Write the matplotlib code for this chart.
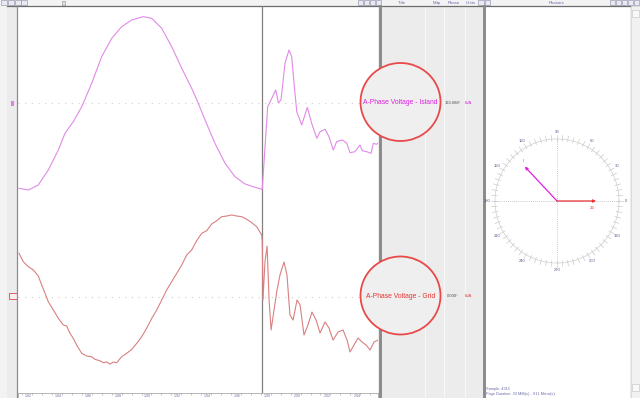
import numpy as np
import matplotlib
matplotlib.use("Agg")
import matplotlib.pyplot as plt
from matplotlib.patches import Rectangle, Ellipse

plt.rcParams['font.family'] = ['Liberation Sans', 'DejaVu Sans']

W, H = 640, 398

# ---------------- recorded waveforms (time in ms, voltage in p.u. of half-scale)
island_t_pre = [0.07, 0.73, 1.43, 2.13, 2.84, 3.31, 3.89, 4.49, 5.19, 5.89, 6.60, 7.30,
                8.01, 8.82, 9.42, 10.12, 10.82, 11.53, 12.23, 12.65, 13.17, 13.87, 14.58,
                15.28, 15.99, 16.69, 17.16]
island_v_pre = [-0.879, -0.897, -0.845, -0.691, -0.485, -0.312, -0.193, -0.038, 0.203,
                0.477, 0.667, 0.787, 0.856, 0.890, 0.873, 0.770, 0.581, 0.358, 0.151,
                0.013, -0.175, -0.416, -0.622, -0.760, -0.835, -0.869, -0.890]
island_t_post = [17.20, 17.58, 17.87, 18.15, 18.33, 18.52, 18.80, 19.08, 19.27, 19.46,
                 19.63, 19.98, 20.37, 20.68, 21.04, 21.27, 21.62, 21.90, 22.20, 22.44,
                 22.84, 23.15, 23.38, 23.73, 24.08, 24.25, 24.56, 24.86, 25.02, 25.26, 25.35]
island_v_post = [-0.890, -0.038, 0.048, 0.134, 0.003, 0.031, 0.409, 0.546, 0.478, 0.168,
                 -0.090, -0.227, -0.045, -0.210, -0.364, -0.296, -0.271, -0.347, -0.485,
                 -0.399, -0.381, -0.415, -0.512, -0.502, -0.433, -0.492, -0.502, -0.519,
                 -0.416, -0.426, -0.412]

grid_t_pre = [0.07, 0.37, 0.73, 1.08, 1.43, 1.67, 1.90, 2.13, 2.49, 2.84, 3.19, 3.43, 3.66,
              3.89, 4.13, 4.49, 4.84, 5.19, 5.42, 5.77, 6.01, 6.25, 6.48, 6.71, 6.95, 7.30,
              7.65, 8.01, 8.36, 8.71, 9.06, 9.42, 9.77, 10.12, 10.47, 10.82, 11.18, 11.53,
              11.88, 12.23, 12.58, 12.94, 13.29, 13.64, 13.99, 14.34, 14.70, 15.05, 15.40,
              15.75, 16.11, 16.46, 16.81, 17.16]
grid_v_pre = [0.448, 0.361, 0.309, 0.275, 0.212, 0.119, 0.034, -0.054, -0.140, -0.226,
              -0.295, -0.306, -0.381, -0.433, -0.503, -0.589, -0.617, -0.624, -0.651,
              -0.666, -0.686, -0.679, -0.700, -0.679, -0.686, -0.624, -0.589, -0.548,
              -0.485, -0.417, -0.329, -0.226, -0.140, -0.036, 0.067, 0.154, 0.241, 0.327,
              0.430, 0.482, 0.578, 0.655, 0.682, 0.751, 0.785, 0.827, 0.834, 0.845, 0.834,
              0.827, 0.800, 0.765, 0.723, 0.637]
grid_t_post = [17.20, 17.25, 17.39, 17.54, 17.68, 17.82, 18.03, 18.24, 18.45, 18.73, 18.94,
               19.15, 19.37, 19.65, 19.86, 20.14, 20.42, 20.70, 20.99, 21.27, 21.62, 21.90,
               22.18, 22.54, 22.89, 23.17, 23.38, 23.66, 23.94, 24.23, 24.51, 24.79, 25.07,
               25.35]
grid_v_post = [0.580, -0.036, 0.358, 0.523, -0.036, -0.347, -0.140, 0.067, 0.223, 0.358,
               0.223, -0.192, -0.244, -0.036, -0.088, -0.399, -0.295, -0.161, -0.244,
               -0.378, -0.264, -0.326, -0.451, -0.368, -0.347, -0.451, -0.575, -0.503,
               -0.430, -0.472, -0.503, -0.554, -0.472, -0.451]

event_t = 17.18
t_span = (0.0, 25.35)

# ---------------- channel table / phasors
chan_titles = ["A-Phase Voltage - Island", "A-Phase Voltage - Grid"]
chan_units = ["kVA", "kVA"]
phasor_names = ["I", "26"]
phasor_mag = [0.76, 0.63]
phasor_ang = [133.088, 0.0]
chan_text_colors = ["#e020e0", "#e83434"]
chan_line_colors = ["#e08ae6", "#d98080"]
header_cols = ["Title", "Mltp", "Phase", "Units"]
ruler_labels = ["1.82", "1.84", "1.86", "1.88", "1.90", "1.92", "1.94", "1.96",
                "1.98", "2.00", "2.02", "2.04"]
sample_info = ["Sample: 4315", "Page Duration: 33 Milli(s) - 611 Micro(s)"]


def fbox(x0, y0, x1, y1):
    return [x0 / W, 1 - y1 / H, (x1 - x0) / W, (y1 - y0) / H]


fig = plt.figure(figsize=(W / 100, H / 100), dpi=100)

# ---------------- window chrome
bg = fig.add_axes([0, 0, 1, 1])
bg.set_xlim(0, W)
bg.set_ylim(H, 0)
bg.axis("off")
bg.add_patch(Rectangle((0, 0), W, H, fc="#ececec", ec="none"))
bg.add_patch(Rectangle((0, 0), 7, H, fc="#f3f3f3", ec="none"))
bg.add_patch(Rectangle((0, 0), W, 5.5, fc="#f3f3f3", ec="none"))
bg.add_patch(Rectangle((18, 6), 360, 387, fc="white", ec="none"))
bg.add_patch(Rectangle((485, 6), 145, 392, fc="white", ec="none"))
bg.add_patch(Rectangle((630.5, 6), 9, 392, fc="#f1f1f1", ec="#d4d4d4", lw=0.5))
for yb in (14, 388):
    bg.add_patch(Rectangle((631.5, yb - 4), 7, 7, fc="#f8f8f8", ec="#c0c0c0", lw=0.4))
for xc in (424.5, 443.5, 464.5):
    bg.plot([xc, xc], [6, H], color="#f8f8f8", lw=0.8)
bg.plot([7, 630], [5.5, 5.5], color="#6c6c6c", lw=0.9)
bg.plot([17, 17], [5.5, H], color="#8c8c8c", lw=0.9)
bg.plot([379.5, 379.5], [5.5, H], color="#8a8a8a", lw=2.1)
bg.plot([483.5, 483.5], [5.5, H], color="#8a8a8a", lw=2.1)

# toolbar buttons
def button(x, w=5.5):
    bg.add_patch(Rectangle((x, 0.3), w, 4.6, fc="#e9e9f1", ec="#8a8aa8", lw=0.4))

for xb in (1, 8, 15, 21):
    button(xb)
bg.add_patch(Rectangle((62, 0.5), 2.5, 4.5, fc="#e0e0e0", ec="#8a8a8a", lw=0.4))
for xb in (357.5, 363.5, 369.5, 375.5):
    button(xb)
for xb in (478, 484.5):
    button(xb)
for xb in (610, 616, 622, 628, 634):
    button(xb, 5)
for name, xc in zip(header_cols, (402, 437, 454, 471)):
    bg.text(xc, 2.6, name, fontsize=3.2, color="#6a6aa8", ha="center", va="center")
bg.text(557, 2.6, "Phasors", fontsize=3.2, color="#6a6aa8", ha="center", va="center")

# channel markers on the left edge
bg.add_patch(Rectangle((11, 100.5), 3, 5, fc="#e080e0", ec="none"))
bg.add_patch(Rectangle((8.5, 293), 8, 6, fc="#f9eeee", ec="#e04848", lw=0.6))

# ---------------- waveform panels
panel_boxes = [fbox(18, 6, 378, 200), fbox(18, 200, 378, 393)]
series = [
    (island_t_pre + island_t_post, island_v_pre + island_v_post),
    (grid_t_pre + grid_t_post, grid_v_pre + grid_v_post),
]
for box, (tt, vv), lc in zip(panel_boxes, series, chan_line_colors):
    ax = fig.add_axes(box)
    ax.patch.set_alpha(0)
    ax.set_xlim(*t_span)
    ax.set_ylim(-1.0, 1.0)
    ax.axis("off")
    ax.axhline(0, color="#cfcfcf", lw=0.8, ls=(0, (1, 5)))
    ax.axvline(event_t, color="#808080", lw=0.9)
    ax.plot(tt, vv, color=lc, lw=0.8, solid_joinstyle="round")

# time ruler
ra = fig.add_axes(fbox(18, 393, 378, 398))
ra.set_xlim(*t_span)
ra.set_ylim(0, 1)
ra.set_xticks([])
ra.set_yticks([])
for s in ra.spines.values():
    s.set_color("#9a9a9a")
    s.set_linewidth(0.5)
minor = np.arange(0.3, t_span[1], 0.7)
ra.vlines(minor, 0.55, 1.0, color="#9a9a9a", lw=0.4)
label_pos = np.arange(0.3, t_span[1], 2.11)
for xp, lab in zip(label_pos, ruler_labels):
    ra.text(xp + 0.15, 0.4, lab, fontsize=2.6, color="#7070a0", ha="left", va="center")

# ---------------- phasor diagram
pa = fig.add_axes(fbox(477, 121, 637, 281))
pa.patch.set_alpha(0)
lim = 80 / 62
pa.set_xlim(-lim, lim)
pa.set_ylim(-lim, lim)
pa.axis("off")
th = np.linspace(0, 2 * np.pi, 361)
pa.plot(np.cos(th), np.sin(th), color="#d6d6d6", lw=0.6)
for a in np.deg2rad(np.arange(0, 360, 5)):
    pa.plot([0.97 * np.cos(a), 1.06 * np.cos(a)], [0.97 * np.sin(a), 1.06 * np.sin(a)],
            color="#cccccc", lw=0.5)
for a in range(0, 360, 30):
    r = np.deg2rad(a)
    pa.text(1.12 * np.cos(r), 1.12 * np.sin(r), str(a), fontsize=3.0, color="#5a5a8c",
            ha="center", va="center")
pa.plot([-1, 1], [0, 0], color="#b8b8b8", lw=0.6, ls=(0, (1, 1.5)))
pa.plot([0, 0], [-1, 1], color="#b8b8b8", lw=0.6, ls=(0, (1, 1.5)))
label_offsets = [(-1, 4), (-3, -5)]
for name, m, ang, col, off in zip(phasor_names, phasor_mag, phasor_ang,
                                  chan_text_colors, label_offsets):
    r = np.deg2rad(ang)
    tip = (m * np.cos(r), m * np.sin(r))
    pa.annotate("", xy=tip, xytext=(0, 0),
                arrowprops=dict(arrowstyle="-|>", color=col, lw=0.9,
                                mutation_scale=4, shrinkA=0, shrinkB=0))
    pa.annotate(name, xy=tip, xytext=off, textcoords="offset points", fontsize=3.2,
                color=col, ha="center", va="center")

# ---------------- overlay: channel callouts and table values
ov = fig.add_axes([0, 0, 1, 1], zorder=5)
ov.patch.set_alpha(0)
ov.set_xlim(0, W)
ov.set_ylim(H, 0)
ov.axis("off")
rows_y = [102, 295.5]
for title, unit, ang, col, yc in zip(chan_titles, chan_units, phasor_ang,
                                     chan_text_colors, rows_y):
    ov.add_patch(Ellipse((400.5, yc), 80, 78, fc="#efefef", ec="#e84a4a", lw=1.3))
    ov.text(400.5, yc + 0.5, title, fontsize=4.9, color=col, ha="center", va="center")
    ov.text(452.5, yc + 0.5, f"{ang:.3f}°", fontsize=3.0, color="#505050",
            ha="center", va="center")
    ov.text(468, yc + 0.5, unit, fontsize=3.0, color=col, ha="center", va="center")

for i, line in enumerate(sample_info):
    ov.text(486, 389 + 5 * i, line, fontsize=2.8, color="#6a6aa8", ha="left",
            va="center")

fig.savefig("out.png", dpi=100)
